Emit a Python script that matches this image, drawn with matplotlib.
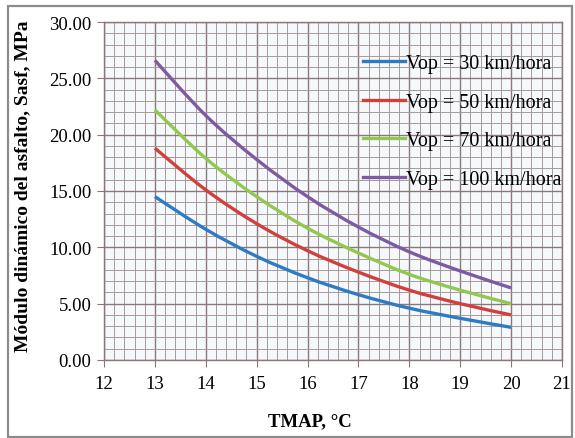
import matplotlib
matplotlib.use("Agg")
import numpy as np
import matplotlib.pyplot as plt
from matplotlib.patches import Rectangle, PathPatch
from matplotlib.path import Path
from matplotlib.lines import Line2D
from matplotlib.ticker import MultipleLocator, FormatStrFormatter

# data
tmap = [13, 14, 15, 16, 17, 18, 19, 20]
s_30 = [14.5, 11.6, 9.2, 7.3, 5.8, 4.6, 3.7, 2.9]
s_50 = [18.8, 15.1, 12.1, 9.7, 7.8, 6.2, 5.0, 4.0]
s_70 = [22.2, 17.9, 14.5, 11.7, 9.5, 7.6, 6.2, 5.0]
s_100 = [26.6, 21.7, 17.8, 14.5, 11.8, 9.6, 7.9, 6.4]
labels = ["Vop = 30 km/hora", "Vop = 50 km/hora",
          "Vop = 70 km/hora", "Vop = 100 km/hora"]
colors = ["#2E7BC4", "#D0403C", "#92C850", "#7E5AA2"]


def smooth_path(x, y, k=1 / 6):
    # Excel-like smoothed line: cubic Bezier segments through the data points
    p = np.column_stack([x, y]).astype(float)
    verts = [p[0]]
    codes = [Path.MOVETO]
    n = len(p)
    for i in range(n - 1):
        p0 = p[i - 1] if i > 0 else p[i]
        p3 = p[i + 2] if i + 2 < n else p[i + 1]
        c1 = p[i] + (p[i + 1] - p0) * k
        c2 = p[i + 1] - (p3 - p[i]) * k
        verts += [c1, c2, p[i + 1]]
        codes += [Path.CURVE4] * 3
    return Path(verts, codes)


plt.rcParams['font.family'] = ['Liberation Serif', 'DejaVu Serif']

W, H = 575, 439
fig = plt.figure(figsize=(W / 100, H / 100), dpi=100)
ax = fig.add_axes([104 / W, 1 - 361 / H, (562 - 104) / W, (361 - 23) / H])
ax.set_facecolor("#F6F9FC")

handles = []
for ys, c, lab in zip([s_30, s_50, s_70, s_100], colors, labels):
    ax.add_patch(PathPatch(smooth_path(tmap, ys), fill=False, edgecolor=c,
                           lw=2.4, capstyle='butt', zorder=3))
    handles.append(Line2D([], [], color=c, lw=2.4, label=lab))

ax.set_xlim(12, 21)
ax.set_ylim(0, 30)
ax.xaxis.set_major_locator(MultipleLocator(1))
ax.xaxis.set_minor_locator(MultipleLocator(0.2))
ax.yaxis.set_major_locator(MultipleLocator(5))
ax.yaxis.set_minor_locator(MultipleLocator(1))
ax.yaxis.set_major_formatter(FormatStrFormatter('%.2f'))

ax.grid(which='major', color="#8A7878", lw=1.0, zorder=1)
ax.grid(which='minor', color="#A89A9A", lw=0.7, zorder=1)
for s in ax.spines.values():
    s.set_color("#8A7878")
    s.set_linewidth(1.0)
ax.tick_params(which='major', length=5, color="#8A7878", labelsize=13.5)
ax.tick_params(axis='x', pad=6)
ax.tick_params(axis='y', pad=4)
ax.tick_params(which='minor', length=0)

fig.text(310 / W, 1 - 422 / H, "TMAP, °C", fontsize=13.5, fontweight='bold',
         ha='center', va='center')
fig.text(23 / W, 1 - 186 / H, "Módulo dinámico del asfalto, Sasf, MPa",
         fontsize=14, fontweight='bold', rotation=90,
         ha='center', va='center')

ax.legend(handles=handles, loc='upper left', bbox_to_anchor=(0.565, 0.905),
          frameon=False, fontsize=14.5, handlelength=2.1, handletextpad=0.05,
          labelspacing=0.97, borderpad=0, borderaxespad=0)

fig.patches.append(Rectangle((8 / W, 1.5 / H), (572 - 8) / W, 431 / H,
                             transform=fig.transFigure, fill=False,
                             edgecolor="#8C8C8C", lw=1.6))

fig.savefig("out.png", dpi=100)
